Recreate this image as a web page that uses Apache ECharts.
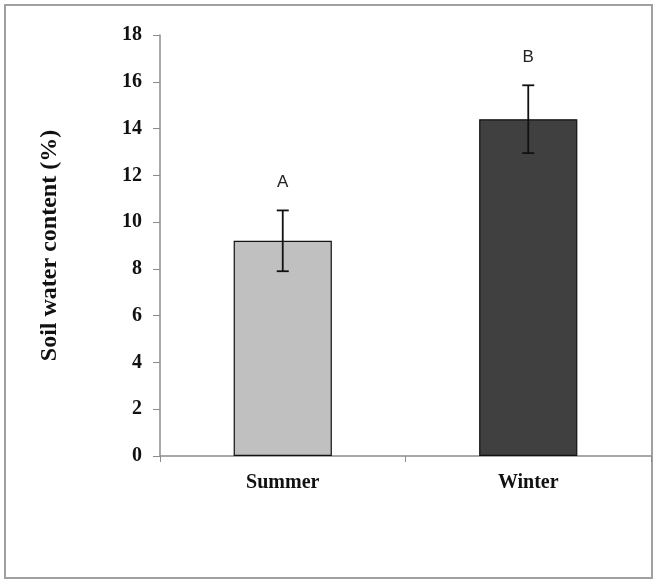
<!DOCTYPE html>
<html><head><meta charset="utf-8">
<script src="https://cdn.jsdelivr.net/npm/echarts@6/dist/echarts.min.js"></script>
<style>html,body{margin:0;padding:0;background:#fff}#c{width:658px;height:585px}</style>
</head><body><div id="c"></div>
<script>
var categories = ['Summer', 'Winter'];
var means = [9.2, 14.4];
var errors = [1.3, 1.45];
var letters = ['A', 'B'];
var barColors = ['#c0c0c0', '#404040'];
var yTicks = {min: 0, max: 18, interval: 2};

var chart = echarts.init(document.getElementById('c'));
var serif = '"Liberation Serif","Times New Roman",serif';
chart.setOption({
  animation: false,
  backgroundColor: '#fff',
  graphic: [{type: 'rect', shape: {x: 5, y: 5, width: 647, height: 573},
    style: {fill: 'none', stroke: '#a0a0a0', lineWidth: 2}, silent: true}],
  grid: {left: 160, right: 7, top: 35, bottom: 129},
  xAxis: {
    type: 'category', data: categories, boundaryGap: true,
    axisLine: {lineStyle: {color: '#8c8c8c', width: 1.5}},
    axisTick: {show: true, length: 6, lineStyle: {color: '#8c8c8c'}},
    axisLabel: {fontFamily: serif, fontWeight: 'bold', fontSize: 20, color: '#111', margin: 17}
  },
  yAxis: {
    type: 'value', min: yTicks.min, max: yTicks.max, interval: yTicks.interval,
    name: 'Soil water content (%)', nameLocation: 'middle', nameGap: 98,
    nameTextStyle: {fontFamily: serif, fontWeight: 'bold', fontSize: 24, color: '#111'},
    axisLine: {show: true, lineStyle: {color: '#8c8c8c', width: 1.5}},
    axisTick: {show: true, length: 7, lineStyle: {color: '#8c8c8c'}},
    splitLine: {show: false},
    axisLabel: {fontFamily: serif, fontWeight: 'bold', fontSize: 20, color: '#111', margin: 18}
  },
  series: [{
    type: 'bar', barWidth: '40%',
    data: means.map(function (v, i) {
      return {value: v, itemStyle: {color: barColors[i], borderColor: '#111', borderWidth: 1.2}};
    })
  }, {
    type: 'custom',
    data: means.map(function (v, i) { return [i, v - errors[i], v + errors[i], i]; }),
    renderItem: function (params, api) {
      var x = api.value(0);
      var lo = api.coord([x, api.value(1)]);
      var hi = api.coord([x, api.value(2)]);
      var w = 6;
      var st = {stroke: '#111', lineWidth: 1.8};
      return {type: 'group', children: [
        {type: 'line', shape: {x1: lo[0], y1: lo[1], x2: hi[0], y2: hi[1]}, style: st},
        {type: 'line', shape: {x1: lo[0] - w, y1: lo[1], x2: lo[0] + w, y2: lo[1]}, style: st},
        {type: 'line', shape: {x1: hi[0] - w, y1: hi[1], x2: hi[0] + w, y2: hi[1]}, style: st},
        {type: 'text', x: hi[0], y: hi[1] - 28, style: {text: letters[api.value(3)],
          fill: '#222', font: '17px "Liberation Sans", Arial, sans-serif', align: 'center', verticalAlign: 'middle'}}
      ]};
    },
    z: 5
  }]
});
</script></body></html>
